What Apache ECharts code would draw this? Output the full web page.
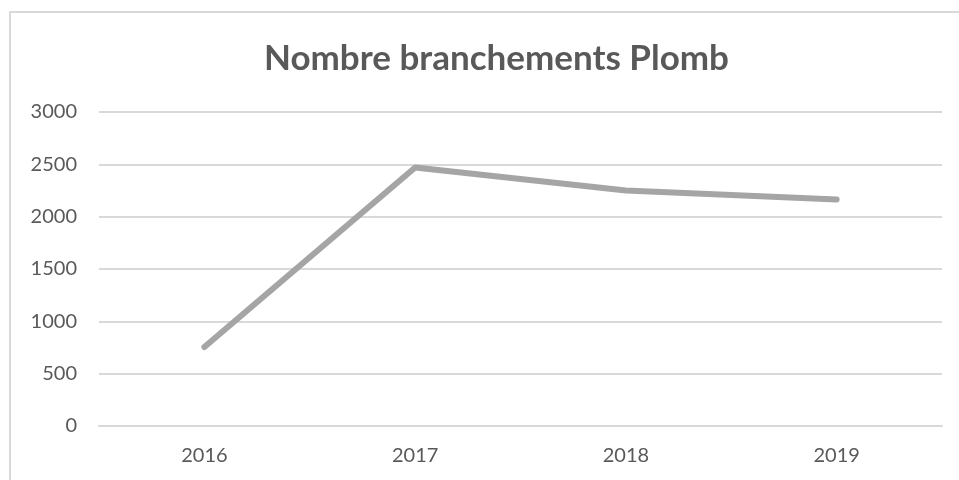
<!DOCTYPE html>
<html>
<head>
<meta charset="utf-8">
<script src="https://cdn.jsdelivr.net/npm/echarts@6/dist/echarts.min.js"></script>
<style>
  html, body { margin: 0; padding: 0; background: #fff; }
  #chart { width: 959px; height: 480px; }
</style>
</head>
<body>
<div id="chart"></div>
<script>
// données du graphique
const years = ['2016', '2017', '2018', '2019'];
const branchements = [755, 2470, 2250, 2165];
const yTicks = { min: 0, max: 3000, step: 500 };

const chart = echarts.init(document.getElementById('chart'));

const option = {
  backgroundColor: '#fff',
  animation: false,
  title: {
    text: 'Nombre branchements Plomb',
    left: 259,
    top: 36,
    textStyle: {
      fontFamily: 'Lato',
      fontSize: 35,
      fontWeight: 'bold',
      color: '#595959'
    }
  },
  // cadre gris autour du graphique
  graphic: [{
    type: 'rect',
    shape: { x: 10, y: 12, width: 1200, height: 1000 },
    style: { fill: 'none', stroke: '#d9d9d9', lineWidth: 2 },
    silent: true
  }],
  grid: { left: 99, right: 17, top: 112, bottom: 54 },
  xAxis: {
    type: 'category',
    data: years,
    boundaryGap: true,
    axisLine: { show: true, lineStyle: { color: '#d9d9d9', width: 2 } },
    axisTick: { show: false },
    axisLabel: {
      margin: 20,
      fontFamily: 'Lato',
      fontSize: 20,
      color: '#595959'
    }
  },
  yAxis: {
    type: 'value',
    min: yTicks.min,
    max: yTicks.max,
    interval: yTicks.step,
    axisLine: { show: false },
    axisTick: { show: false },
    axisLabel: {
      margin: 22,
      fontFamily: 'Lato',
      fontSize: 20,
      color: '#595959',
      formatter: (v) => String(v)
    },
    splitLine: { lineStyle: { color: '#d9d9d9', width: 2 } }
  },
  series: [{
    name: 'Nombre branchements Plomb',
    type: 'line',
    data: branchements,
    symbol: 'none',
    lineStyle: { color: '#a5a5a5', width: 6, cap: 'round', join: 'round' }
  }]
};

chart.setOption(option);
</script>
</body>
</html>
